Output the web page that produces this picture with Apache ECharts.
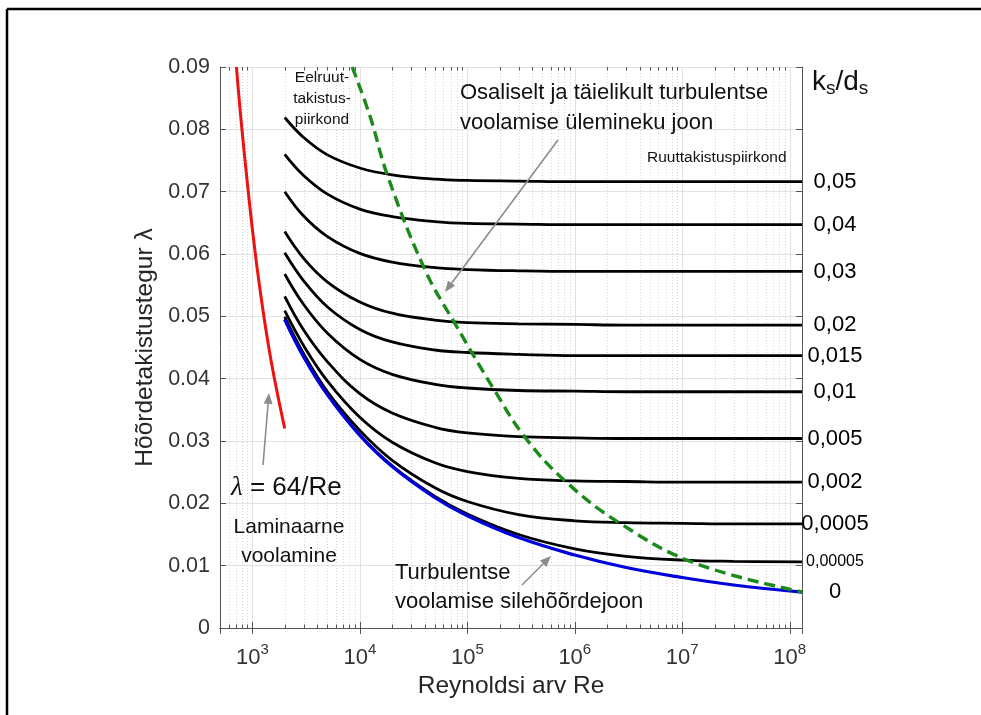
<!DOCTYPE html>
<html><head><meta charset="utf-8">
<script src="https://cdn.jsdelivr.net/npm/echarts@6/dist/echarts.min.js"></script>
<style>html,body{margin:0;padding:0;background:#fff}#c{width:981px;height:715px}</style>
</head><body><div id="c"></div>
<script>
// ---- data ----
const reSamples = [2000, 3000, 5000, 1e4, 2e4, 5e4, 1e5, 3e5, 1e6, 3e6, 1e7, 3e7, 1.3e8];
const lamK050   = [0.0819, 0.0787, 0.0759, 0.0738, 0.0727, 0.0720, 0.0718, 0.0717, 0.0716, 0.0716, 0.0716, 0.0716, 0.0716];
const lamK040   = [0.0760, 0.0726, 0.0696, 0.0672, 0.0660, 0.0652, 0.0649, 0.0648, 0.0647, 0.0647, 0.0647, 0.0647, 0.0647];
const lamK030   = [0.0700, 0.0661, 0.0628, 0.0601, 0.0587, 0.0578, 0.0575, 0.0573, 0.0572, 0.0572, 0.0572, 0.0572, 0.0572];
const lamK020   = [0.0636, 0.0593, 0.0555, 0.0523, 0.0505, 0.0494, 0.0490, 0.0488, 0.0487, 0.0486, 0.0486, 0.0486, 0.0486];
const lamK015   = [0.0602, 0.0557, 0.0515, 0.0479, 0.0459, 0.0446, 0.0442, 0.0439, 0.0437, 0.0437, 0.0437, 0.0437, 0.0437];
const lamK010   = [0.0568, 0.0519, 0.0473, 0.0431, 0.0407, 0.0391, 0.0385, 0.0381, 0.0380, 0.0379, 0.0379, 0.0379, 0.0379];
const lamK005   = [0.0532, 0.0478, 0.0427, 0.0376, 0.0345, 0.0322, 0.0313, 0.0307, 0.0305, 0.0304, 0.0304, 0.0304, 0.0304];
const lamK002   = [0.0509, 0.0453, 0.0396, 0.0338, 0.0298, 0.0265, 0.0251, 0.0240, 0.0236, 0.0235, 0.0234, 0.0234, 0.0234];
const lamK0005  = [0.0499, 0.0440, 0.0379, 0.0317, 0.0269, 0.0225, 0.0203, 0.0182, 0.0172, 0.0169, 0.0168, 0.0167, 0.0167];
const lamK00005 = [0.0495, 0.0436, 0.0375, 0.0310, 0.0260, 0.0211, 0.0183, 0.0150, 0.0127, 0.0115, 0.0109, 0.0107, 0.0106];
const lamSmooth = [0.0495, 0.0435, 0.0374, 0.0309, 0.0259, 0.0209, 0.0180, 0.0145, 0.0117, 0.0097, 0.0081, 0.0069, 0.00575];
const roughLabels = ['0,05', '0,04', '0,03', '0,02', '0,015', '0,01', '0,005', '0,002', '0,0005', '0,00005'];
const roughCurves = [lamK050, lamK040, lamK030, lamK020, lamK015, lamK010, lamK005, lamK002, lamK0005, lamK00005];
const smoothLabel = '0';

const laminarRe  = [711, 800, 1000, 1200, 1500, 2000];
const laminarLam = [0.090, 0.080, 0.064, 0.0533, 0.0427, 0.032];

const transRe  = [8490, 12500, 18000, 40500, 77000, 181000, 344000, 811000, 2.63e6, 1.31e7, 1.3e8];
const transLam = [0.090, 0.082, 0.0727, 0.0574, 0.0488, 0.0380, 0.0306, 0.0236, 0.0168, 0.0104, 0.0058];

const xMin = 500, xMax = 1.3e8;
const yMin = 0, yMax = 0.09, yStep = 0.01;
const minorMultipliers = [2, 3, 4, 5, 6, 7, 8, 9];
const decadeExps = [2, 3, 4, 5, 6, 7, 8];

// ---- build ----
const FONT = '"Liberation Sans", Arial, sans-serif';
const minorX = [];
decadeExps.forEach(e => minorMultipliers.forEach(m => {
  const v = m * Math.pow(10, e);
  if (v > xMin * 1.0001 && v < xMax) minorX.push(v);
}));

function pairs(xs, ys) { return xs.map((x, i) => [x, ys[i]]); }

const AX = '#555';
function xLabelFmt(v) {
  const l = Math.log10(v);
  if (Math.abs(l - Math.round(l)) < 1e-6) return '{b|10}{s|' + Math.round(l) + '}';
  return '';
}

const series = [];
series.push({
  type: 'custom', silent: true, z: 1,
  xAxisIndex: 0, yAxisIndex: 0,
  data: minorX.map(v => [v, 0]),
  encode: { x: 0, y: 1 },
  renderItem: function (params, api) {
    const v = api.value(0);
    const pb = api.coord([v, yMin]);
    const pt = api.coord([v, yMax]);
    const x = Math.round(pb[0]) + 0.5;
    return { type: 'group', children: [
      { type: 'line', shape: { x1: x, y1: pt[1], x2: x, y2: pb[1] }, style: { stroke: '#d4d4d4', lineWidth: 1, lineDash: [1, 2] } },
      { type: 'line', shape: { x1: x, y1: pb[1], x2: x, y2: pb[1] - 3.5 }, style: { stroke: AX, lineWidth: 1 } },
      { type: 'line', shape: { x1: x, y1: pt[1], x2: x, y2: pt[1] + 3.5 }, style: { stroke: AX, lineWidth: 1 } }
    ]};
  }
});

roughCurves.forEach((arr, i) => {
  series.push({
    type: 'line', name: roughLabels[i], z: 3,
    data: pairs(reSamples, arr),
    symbol: 'none', smooth: 0.4,
    lineStyle: { color: '#000', width: 2.8 },
    endLabel: {
      show: true, formatter: roughLabels[i], align: 'center', distance: 33,
      fontSize: i === 9 ? 16 : 22, color: '#000', fontFamily: FONT
    }
  });
});

series.push({
  type: 'line', name: 'sile', z: 5,
  data: pairs(reSamples, lamSmooth),
  symbol: 'none', smooth: 0.4,
  lineStyle: { color: '#0000dd', width: 3.2 },
  endLabel: { show: true, formatter: smoothLabel, align: 'center', distance: 33, fontSize: 22, color: '#000', fontFamily: FONT }
});

series.push({
  type: 'line', name: 'laminaarne', z: 4,
  data: pairs(laminarRe, laminarLam),
  symbol: 'none', smooth: 0.4,
  lineStyle: { color: '#ee1111', width: 3 }
});

series.push({
  type: 'line', name: 'üleminek', z: 6,
  data: pairs(transRe, transLam),
  symbol: 'none', smooth: 0.4,
  lineStyle: { color: '#1a8a1a', width: 3.4, type: [11, 6] }
});

function arrow(x1, y1, x2, y2) {
  const a = Math.atan2(y2 - y1, x2 - x1);
  const L = 11, W = 4.5;
  const bx = x2 - L * Math.cos(a), by = y2 - L * Math.sin(a);
  const px = -Math.sin(a) * W, py = Math.cos(a) * W;
  return [
    { type: 'line', z: 20, shape: { x1: x1, y1: y1, x2: bx, y2: by }, style: { stroke: '#8c8c8c', lineWidth: 1.6 } },
    { type: 'polygon', z: 20, shape: { points: [[x2, y2], [bx + px, by + py], [bx - px, by - py]] }, style: { fill: '#8c8c8c' } }
  ];
}

const graphic = [
  { type: 'line', shape: { x1: 7, y1: 9, x2: 981, y2: 9 }, style: { stroke: '#000', lineWidth: 2.5 } },
  { type: 'line', shape: { x1: 7, y1: 9, x2: 7, y2: 715 }, style: { stroke: '#000', lineWidth: 2.5 } },
  { type: 'text', z: 20, style: { text: 'Eelruut-\ntakistus-\npiirkond', x: 322, y: 67, align: 'center', verticalAlign: 'top', fontSize: 15.5, lineHeight: 21, fontFamily: FONT, fill: '#111' } },
  { type: 'text', z: 20, style: { text: 'Osaliselt ja täielikult turbulentse\nvoolamise ülemineku joon', x: 460, y: 78, align: 'left', verticalAlign: 'top', fontSize: 22, lineHeight: 30, fontFamily: FONT, fill: '#111' } },
  { type: 'text', z: 20, style: { text: 'Ruuttakistuspiirkond', x: 647, y: 158, align: 'left', verticalAlign: 'middle', fontSize: 15.5, fontFamily: FONT, fill: '#111' } },
  { type: 'text', z: 20, style: { text: '{l|λ} = 64/Re', x: 231, y: 488, align: 'left', verticalAlign: 'middle', fontSize: 26, fontFamily: FONT, fill: '#111',
      rich: { l: { fontFamily: '"Liberation Serif", serif', fontStyle: 'italic', fontSize: 27, fill: '#111' } } } },
  { type: 'text', z: 20, style: { text: 'Laminaarne\nvoolamine', x: 289, y: 513, align: 'center', verticalAlign: 'top', fontSize: 21, lineHeight: 29, fontFamily: FONT, fill: '#111' } },
  { type: 'text', z: 20, style: { text: 'Turbulentse\nvoolamise silehõõrdejoon', x: 395, y: 558, align: 'left', verticalAlign: 'top', fontSize: 22, lineHeight: 29, fontFamily: FONT, fill: '#111' } },
  { type: 'text', z: 20, style: { text: 'k{s|s}/d{s|s}', x: 812, y: 82, align: 'left', verticalAlign: 'middle', fontSize: 28, fontFamily: FONT, fill: '#111',
      rich: { s: { fontSize: 19, fontFamily: FONT, fill: '#111', padding: [14, 0, 0, 0] } } } }
].concat(arrow(558, 140, 445, 292), arrow(263, 465, 269, 393), arrow(522, 585, 551, 556));

const xAxisCommon = { type: 'log', logBase: 10, min: xMin, max: xMax, gridIndex: 0 };
const option = {
  backgroundColor: '#fff',
  animation: false,
  grid: { left: 220, right: 179, top: 67, bottom: 87, containLabel: false },
  xAxis: [
    Object.assign({}, xAxisCommon, {
      position: 'bottom',
      axisLine: { show: true, lineStyle: { color: AX, width: 1 } },
      axisTick: { show: true, inside: true, length: 6, lineStyle: { color: AX } },
      minorTick: { show: false },
      splitLine: { show: true, lineStyle: { color: '#e2e2e2', width: 1 } },
      axisLabel: {
        formatter: xLabelFmt, margin: 14, color: '#333', fontFamily: FONT,
        rich: { b: { fontSize: 22, color: '#333', fontFamily: FONT }, s: { fontSize: 15, color: '#333', fontFamily: FONT, padding: [0, 0, 16, 0] } }
      },
      name: 'Reynoldsi arv Re', nameLocation: 'middle', nameGap: 44,
      nameTextStyle: { fontSize: 24.5, color: '#262626', fontFamily: FONT }
    }),
    Object.assign({}, xAxisCommon, {
      position: 'top',
      axisLine: { show: true, lineStyle: { color: AX, width: 1 } },
      axisTick: { show: true, inside: true, length: 6, lineStyle: { color: AX } },
      axisLabel: { show: false }, splitLine: { show: false }
    })
  ],
  yAxis: [
    {
      type: 'value', min: yMin, max: yMax, interval: yStep, position: 'left',
      axisLine: { show: true, lineStyle: { color: AX, width: 1 } },
      axisTick: { show: true, inside: true, length: 6, lineStyle: { color: AX } },
      splitLine: { show: true, lineStyle: { color: '#e2e2e2', width: 1 } },
      axisLabel: { formatter: v => (v === 0 ? '0' : v.toFixed(2)), fontSize: 21.5, color: '#333', margin: 10, fontFamily: FONT },
      name: 'Hõõrdetakistustegur λ', nameLocation: 'middle', nameGap: 60,
      nameTextStyle: { fontSize: 24.5, color: '#262626', fontFamily: FONT }
    },
    {
      type: 'value', min: yMin, max: yMax, interval: yStep, position: 'right',
      axisLine: { show: true, lineStyle: { color: AX, width: 1 } },
      axisTick: { show: true, inside: true, length: 6, lineStyle: { color: AX } },
      splitLine: { show: false }, axisLabel: { show: false }
    }
  ],
  series: series,
  graphic: graphic
};

const chart = echarts.init(document.getElementById('c'), null, { renderer: 'canvas' });
chart.setOption(option);
</script>
</body></html>
